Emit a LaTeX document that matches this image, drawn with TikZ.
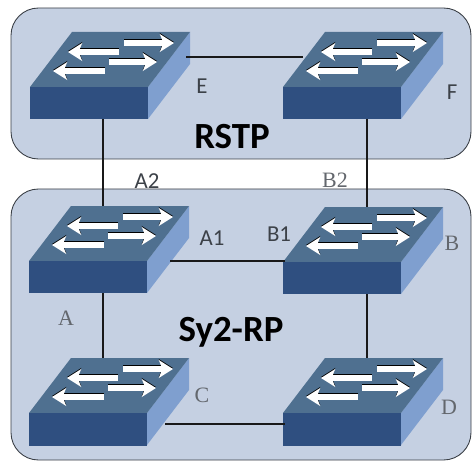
\documentclass[tikz,border=0pt]{standalone}
\usepackage{fontspec}
\usepackage{xcolor}
\usetikzlibrary{arrows.meta}
\newfontfamily\labelsans{Carlito}
\newfontfamily\labelserif{Liberation Serif}
\definecolor{panelblue}{HTML}{C5D0E2}
\definecolor{panelline}{HTML}{3A3F46}
\definecolor{topface}{HTML}{4F7090}
\definecolor{frontface}{HTML}{2F4F80}
\definecolor{sideface}{HTML}{7F9FCF}
\definecolor{labelgray}{HTML}{3C4148}
\tikzset{
    panel/.style={draw=panelline, fill=panelblue, line width=0.5pt, rounded corners=0.55cm},
    link/.style={draw=black!90, line width=0.7pt},
    frontbox/.style={fill=frontface, minimum width=2.36cm, minimum height=0.66cm, inner sep=0pt},
    portarrow/.style={white, line width=3.2pt, -{Stealth[length=8pt, width=10pt, inset=2pt]}},
    portshadow/.style={black, line width=3.2pt, -{Stealth[length=8pt, width=10pt, inset=2pt]}},
    sanslabel/.style={text=labelgray, font=\labelsans\fontsize{13}{14}\selectfont, inner sep=0pt},
    seriflabel/.style={text=labelgray!80, font=\labelserif\fontsize{12.5}{14}\selectfont, inner sep=0pt},
    titlelabel/.style={text=black, font=\labelsans\bfseries\fontsize{21}{23}\selectfont, inner sep=0pt}
}

\begin{document}
\begin{tikzpicture}[x=0.02cm, y=-0.02cm]
\useasboundingbox (0,0) rectangle (472,462);

\draw[panel] (11,8) rectangle (471,159);
\draw[panel] (11,189) rectangle (471,460);

\foreach \x/\y/\m/\o in {
    30/119/E/73, 283/119/F/84,
    29/293/A/74, 283/294/B/84,
    29/445/C/74, 283/445/D/84} {
    \begin{scope}[shift={(\x,\y)}]
    \fill[sideface] (118,-32) -- (160,-87) -- (160,-55) -- (118,0) -- cycle;
    \fill[topface] (0,-32) -- (42,-87) -- (160,-87) -- (118,-32) -- cycle;
    \node[frontbox] (\m) at (59,-16) {};

    \draw[portshadow] (89,-68) -- (38,-68);
    \draw[portshadow] (94,-77) -- (144,-77);
    \draw[portshadow] (75,-49) -- (23,-49);
    \draw[portshadow] (79,-58) -- (127,-58);
    \draw[portarrow] (89,-67) -- (38,-67);
    \draw[portarrow] (94,-76) -- (144,-76);
    \draw[portarrow] (75,-48) -- (23,-48);
    \draw[portarrow] (79,-57) -- (127,-57);

    \coordinate (\m-n) at (\o,-87);
    \coordinate (\m-s) at (\o,0);
    \end{scope}
}

\coordinate (E-port) at (186,57);
\coordinate (F-port) at (303,57);
\coordinate (A-port) at (170,261);
\coordinate (B-port) at (285,261);
\coordinate (C-port) at (165,424);
\coordinate (D-port) at (285,424);

\draw[link] (E-port) -- (F-port);
\draw[link] (A-port) -- (B-port);
\draw[link] (C-port) -- (D-port);
\draw[link] (E-s) -- (A-n);
\draw[link] (F-s) -- (B-n);
\draw[link] (A-s) -- (C-n);
\draw[link] (B-s) -- (D-n);

\node[titlelabel] (rstp) at (232,137) {RSTP};
\node[titlelabel] (rp) at (231,332) {Sy2-RP};

\node[sanslabel] (lE) at (202,86) {E};
\node[sanslabel] (lF) at (452,92) {F};
\node[sanslabel] (lA2) at (147,181) {A2};
\node[seriflabel] (lB2) at (335,180) {B2};
\node[sanslabel] (lA1) at (212,238) {A1};
\node[sanslabel] (lB1) at (279,234) {B1};
\node[seriflabel] (lB) at (452,243) {B};
\node[seriflabel] (lA) at (66,318) {A};
\node[seriflabel] (lC) at (202,395) {C};
\node[seriflabel] (lD) at (449,407) {D};

\end{tikzpicture}
\end{document}
